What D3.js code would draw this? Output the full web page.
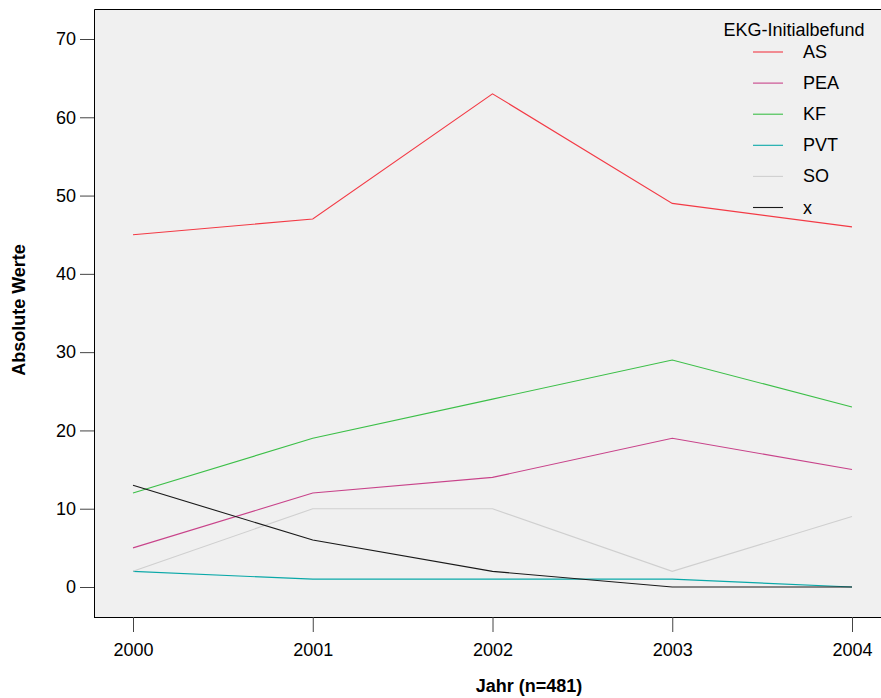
<!DOCTYPE html>
<html><head><meta charset="utf-8">
<script src="https://cdn.jsdelivr.net/npm/d3@7"></script>
<style>body{margin:0;background:#fff;} text{font-family:"Liberation Sans",Arial,sans-serif;}</style>
</head><body><svg id="c" width="881" height="698"></svg>
<script>
const years = [2000, 2001, 2002, 2003, 2004];
const seriesNames = ["AS", "PEA", "KF", "PVT", "SO", "x"];
const AS  = [45, 47, 63, 49, 46];
const PEA = [5, 12, 14, 19, 15];
const KF  = [12, 19, 24, 29, 23];
const PVT = [2, 1, 1, 1, 0];
const SO  = [2, 10, 10, 2, 9];
const X   = [13, 6, 2, 0, 0];
const yTicks = [0, 10, 20, 30, 40, 50, 60, 70];
const colors = ["#f33a45", "#c8438a", "#3cbf48", "#0aa8a8", "#cfcfcf", "#1a1a1a"];
const seriesValues = [AS, PEA, KF, PVT, SO, X];

const svg = d3.select("#c");
const L = 94, T = 9, R = 881, B = 617;
const FS = 18;
const x = d3.scaleLinear().domain([2000, 2004]).range([133, 852]);
const y = d3.scaleLinear().domain([0, 70]).range([587, 39]);

svg.append("rect").attr("x", L).attr("y", T).attr("width", R - L).attr("height", B - T).attr("fill", "#f0f0f0");
svg.append("path").attr("d", `M${L + 0.5},${B + 0.5}V${T + 0.5}H${R}M${L},${B + 0.5}H${R}`).attr("stroke", "#000").attr("fill", "none").attr("stroke-width", 1);

const yAxis = svg.append("g").attr("transform", `translate(${L},0)`)
  .call(d3.axisLeft(y).tickValues(yTicks).tickSize(14).tickPadding(4));
yAxis.select(".domain").remove();
yAxis.selectAll("line").attr("stroke", "#444");
yAxis.selectAll("text").attr("font-size", FS).attr("fill", "#000").style("font-family","Liberation Sans, Arial, sans-serif");

const xAxis = svg.append("g").attr("transform", `translate(0,${B})`)
  .call(d3.axisBottom(x).tickValues(years).tickFormat(d3.format("d")).tickSize(15).tickPadding(11));
xAxis.select(".domain").remove();
xAxis.selectAll("line").attr("stroke", "#444");
xAxis.selectAll("text").attr("font-size", FS).attr("fill", "#000").style("font-family","Liberation Sans, Arial, sans-serif");

const line = d3.line().x((d, i) => x(years[i])).y(d => y(d));
seriesValues.forEach((vals, k) => {
  svg.append("path").datum(vals).attr("d", line).attr("fill", "none")
    .attr("stroke", colors[k]).attr("stroke-width", 1.1);
});

svg.append("text").attr("x", 529).attr("y", 692).attr("text-anchor", "middle")
  .attr("font-size", FS).attr("font-weight", "bold").text("Jahr (n=481)");
svg.append("text").attr("transform", "translate(25,310) rotate(-90)").attr("text-anchor", "middle")
  .attr("font-size", FS).attr("font-weight", "bold").text("Absolute Werte");

const lg = svg.append("g");
lg.append("text").attr("x", 794).attr("y", 36).attr("text-anchor", "middle").attr("font-size", FS).text("EKG-Initialbefund");
seriesNames.forEach((n, k) => {
  const yy = 52 + k * 31.1;
  lg.append("line").attr("x1", 753).attr("x2", 783).attr("y1", yy).attr("y2", yy).attr("stroke", colors[k]).attr("stroke-width", 1.1);
  lg.append("text").attr("x", 803).attr("y", yy + 6).attr("font-size", FS).text(n);
});
</script></body></html>
